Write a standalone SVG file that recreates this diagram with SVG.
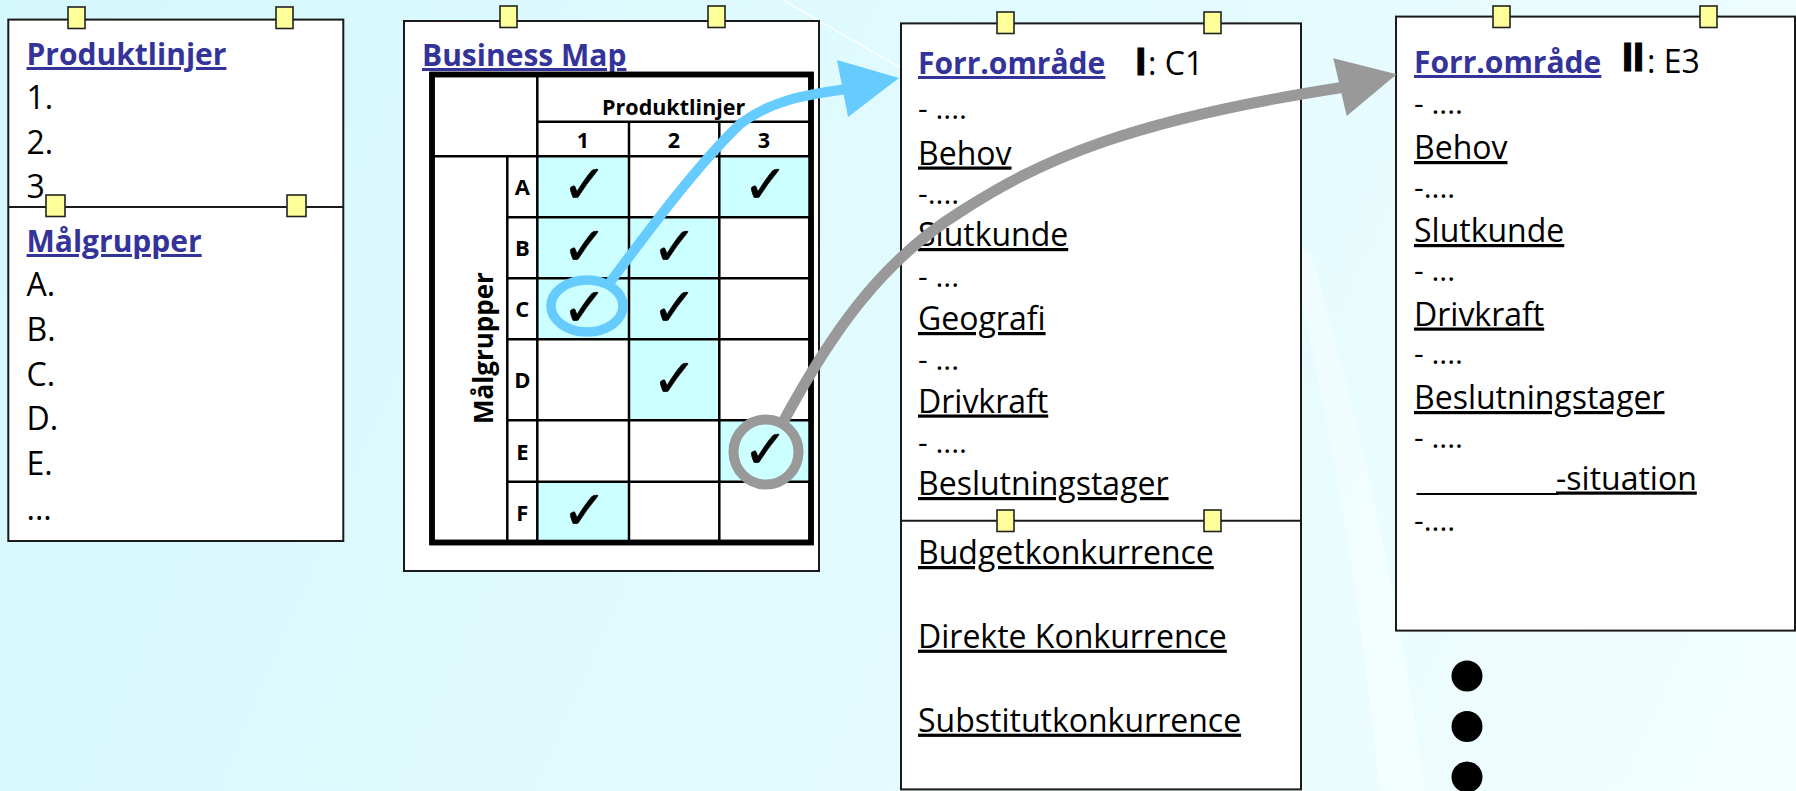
<svg xmlns="http://www.w3.org/2000/svg" width="1796" height="791" viewBox="0 0 1796 791">
  <defs>
    <linearGradient id="bg" x1="0" y1="0" x2="1796" y2="791" gradientUnits="userSpaceOnUse">
      <stop offset="0" stop-color="#d5f8fc"/>
      <stop offset="0.55" stop-color="#e3fbfe"/>
      <stop offset="1" stop-color="#f3feff"/>
    </linearGradient>
    <style>
      .box { fill: #ffffff; stroke: #1a1a1a; stroke-width: 2; }
      .sep { stroke: #1a1a1a; stroke-width: 2; }
      .pin { fill: #ffff99; stroke: #222222; stroke-width: 1.6; }
      .hd { font-family: "Open Sans", "DejaVu Sans", sans-serif; font-weight: bold; font-size: 30px; fill: #333399; text-decoration: underline; }
      .tx { font-family: "Open Sans", "DejaVu Sans", sans-serif; font-size: 32px; fill: #000000; }
      .dots { font-family: "Open Sans", "DejaVu Sans", sans-serif; font-size: 30px; fill: #000000; }
      .u { text-decoration: underline; }
      .roman { font-family: "Liberation Sans", Arial, sans-serif; font-weight: bold; font-size: 38px; fill: #000; stroke: #000; stroke-width: 1.2; }
      .tb { font-family: "Open Sans", "DejaVu Sans", sans-serif; font-weight: bold; font-size: 21.5px; fill: #000; text-anchor: middle; }
      .cell { fill: #ccffff; }
      .grid { stroke: #000000; stroke-width: 2.5; fill: none; }
      .frame { stroke: #000000; stroke-width: 5.5; fill: #ffffff; }
      .ck { font-family: "DejaVu Sans", sans-serif; font-size: 54px; fill: #000; stroke: #000; stroke-width: 0.5; text-anchor: middle; }
    </style>
  </defs>

  <!-- slide background -->
  <rect x="0" y="0" width="1796" height="791" fill="url(#bg)"/>
  <path d="M 1290 250 C 1330 420 1360 600 1380 791 L 1425 791 C 1400 600 1360 420 1310 250 Z" fill="#ffffff" opacity="0.35"/>
  <line x1="783" y1="0" x2="1000" y2="125" stroke="#ffffff" stroke-width="1.5" opacity="0.9"/>

  <!-- Produktlinjer / Målgrupper card -->
  <g id="node-lists">
    <rect class="box" x="8.3" y="19.6" width="335" height="521.4"/>
    <line class="sep" x1="8.3" y1="207" x2="343.3" y2="207"/>
    <text class="hd" x="26.5" y="65">Produktlinjer</text>
    <text class="tx" x="26.5" y="109">1.</text>
    <text class="tx" x="26.5" y="153.6">2.</text>
    <text class="tx" x="26.5" y="198">3</text>
    <text class="hd" x="26.5" y="252">Målgrupper</text>
    <text class="tx" x="26.5" y="296.4">A.</text>
    <text class="tx" x="26.5" y="341">B.</text>
    <text class="tx" x="26.5" y="385.7">C.</text>
    <text class="tx" x="26.5" y="430.4">D.</text>
    <text class="tx" x="26.5" y="475">E.</text>
    <text class="tx" x="26.5" y="519.6">...</text>
    <rect class="pin" x="68" y="7" width="17" height="21.5"/>
    <rect class="pin" x="276" y="7" width="17" height="21.5"/>
    <rect class="pin" x="46" y="195" width="19" height="21.5"/>
    <rect class="pin" x="287" y="195" width="19" height="21.5"/>
  </g>

  <!-- Business Map card with matrix -->
  <g id="node-business-map">
    <rect class="box" x="404" y="21" width="415" height="550"/>
    <text class="hd" x="422" y="66">Business Map</text>
    <rect class="frame" x="432" y="74.5" width="379" height="468"/>
    <!-- marked cells -->
    <rect class="cell" x="537.3" y="156.3" width="91.7" height="61"/>
    <rect class="cell" x="719.3" y="156.3" width="91.7" height="61"/>
    <rect class="cell" x="537.3" y="217.3" width="91.7" height="61"/>
    <rect class="cell" x="629" y="217.3" width="90.3" height="61"/>
    <rect class="cell" x="537.3" y="278.3" width="91.7" height="61"/>
    <rect class="cell" x="629" y="278.3" width="90.3" height="61"/>
    <rect class="cell" x="629" y="339.3" width="90.3" height="81"/>
    <rect class="cell" x="719.3" y="420.3" width="91.7" height="61.4"/>
    <rect class="cell" x="537.3" y="481.7" width="91.7" height="60.8"/>
    <!-- grid lines -->
    <path class="grid" d="M 537.3 74.5 V 542.5 M 507.3 156.3 V 542.5 M 629 121.7 V 542.5 M 719.3 121.7 V 542.5
                          M 537.3 121.7 H 811 M 432 156.3 H 811
                          M 507.3 217.3 H 811 M 507.3 278.3 H 811 M 507.3 339.3 H 811
                          M 507.3 420.3 H 811 M 507.3 481.7 H 811"/>
    <rect x="432" y="74.5" width="379" height="468" fill="none" stroke="#000" stroke-width="5.5"/>
    <text class="tb" x="673.7" y="115">Produktlinjer</text>
    <text class="tb" x="583" y="148.3">1</text>
    <text class="tb" x="674" y="148.3">2</text>
    <text class="tb" x="764" y="148.3">3</text>
    <text class="tb" transform="translate(493,348) rotate(-90)" style="font-size:26px">Målgrupper</text>
    <text class="tb" x="522.3" y="195" style="font-size:22px">A</text>
    <text class="tb" x="522.3" y="256" style="font-size:22px">B</text>
    <text class="tb" x="522.3" y="317" style="font-size:22px">C</text>
    <text class="tb" x="522.3" y="388" style="font-size:22px">D</text>
    <text class="tb" x="522.3" y="460" style="font-size:22px">E</text>
    <text class="tb" x="522.3" y="520.5" style="font-size:22px">F</text>
    <!-- check marks -->
    <text class="ck" x="584.5" y="203.2">✓</text>
    <text class="ck" x="765.5" y="203.2">✓</text>
    <text class="ck" x="584.5" y="264.5">✓</text>
    <text class="ck" x="674.5" y="264.5">✓</text>
    <text class="ck" x="584.5" y="325.5">✓</text>
    <text class="ck" x="674.5" y="325.5">✓</text>
    <text class="ck" x="674.5" y="396.5">✓</text>
    <text class="ck" x="765.5" y="467.8">✓</text>
    <text class="ck" x="584.5" y="528.8">✓</text>
    <rect class="pin" x="500" y="6" width="17" height="21.5"/>
    <rect class="pin" x="708" y="6" width="17" height="21.5"/>
  </g>

  <!-- Forretningsområde I -->
  <g id="node-area-1">
    <rect class="box" x="901" y="23.4" width="400" height="766"/>
    <line class="sep" x1="901" y1="520.7" x2="1301" y2="520.7"/>
    <text class="hd" x="918" y="74">Forr.område</text>
    <text class="roman" x="1135.5" y="75">I</text>
    <text class="tx" x="1148" y="75">: C1</text>
    <text class="dots" x="918" y="119">- ....</text>
    <text class="tx u" x="918" y="164.5">Behov</text>
    <text class="dots" x="918" y="204">-....</text>
    <text class="tx u" x="918" y="246">Slutkunde</text>
    <text class="dots" x="918" y="287">- ...</text>
    <text class="tx u" x="918" y="330">Geografi</text>
    <text class="dots" x="918" y="370">- ...</text>
    <text class="tx u" x="918" y="412.5">Drivkraft</text>
    <text class="dots" x="918" y="453">- ....</text>
    <text class="tx u" x="918" y="495">Beslutningstager</text>
    <text class="tx u" x="918" y="564">Budgetkonkurrence</text>
    <text class="tx u" x="918" y="647.7">Direkte Konkurrence</text>
    <text class="tx u" x="918" y="731.7">Substitutkonkurrence</text>
    <rect class="pin" x="997" y="12" width="17" height="21.5"/>
    <rect class="pin" x="1204" y="12" width="17" height="21.5"/>
    <rect class="pin" x="997" y="510" width="17" height="21.5"/>
    <rect class="pin" x="1204" y="510" width="17" height="21.5"/>
  </g>

  <!-- Forretningsområde II -->
  <g id="node-area-2">
    <rect class="box" x="1396" y="16.6" width="399" height="614"/>
    <text class="hd" x="1414" y="73">Forr.område</text>
    <text class="roman" x="1622" y="71" style="font-size:40px">II</text>
    <text class="tx" x="1647" y="73">: E3</text>
    <text class="dots" x="1414" y="114">- ....</text>
    <text class="tx u" x="1414" y="159">Behov</text>
    <text class="dots" x="1414" y="198">-....</text>
    <text class="tx u" x="1414" y="242">Slutkunde</text>
    <text class="dots" x="1414" y="281">- ...</text>
    <text class="tx u" x="1414" y="325.5">Drivkraft</text>
    <text class="dots" x="1414" y="364">- ....</text>
    <text class="tx u" x="1414" y="409">Beslutningstager</text>
    <text class="dots" x="1414" y="448">- ....</text>
    <line x1="1416.5" y1="494" x2="1558" y2="494" stroke="#000" stroke-width="2"/>
    <text class="tx u" x="1556" y="489.5">-situation</text>
    <text class="dots" x="1414" y="531">-....</text>
    <rect class="pin" x="1493" y="6" width="17" height="21.5"/>
    <rect class="pin" x="1700" y="6" width="17" height="21.5"/>
  </g>

  <!-- continuation dots -->
  <g id="node-more">
    <circle cx="1467" cy="676" r="15.5" fill="#000"/>
    <circle cx="1467" cy="726.5" r="15.5" fill="#000"/>
    <circle cx="1467" cy="777" r="15.5" fill="#000"/>
  </g>

  <!-- connectors: selected matrix cells to their business areas -->
  <g id="connectors" fill="none">
    <ellipse cx="587" cy="306" rx="36" ry="26" stroke="#66ccff" stroke-width="9.5"/>
    <path d="M 608 285 C 655 222 700 162 740 124 C 772 100 805 95 846 89" stroke="#66ccff" stroke-width="10"/>
    <polygon points="899,78 837,60 848,117" fill="#66ccff"/>
    <circle cx="766" cy="452" r="32.5" stroke="#999999" stroke-width="10"/>
    <path d="M 782 424 C 830 335 880 262 960 212 C 1040 160 1130 120 1345 87" stroke="#999999" stroke-width="11"/>
    <polygon points="1396.7,74.3 1333.3,58.3 1346.7,116" fill="#999999"/>
  </g>
</svg>
